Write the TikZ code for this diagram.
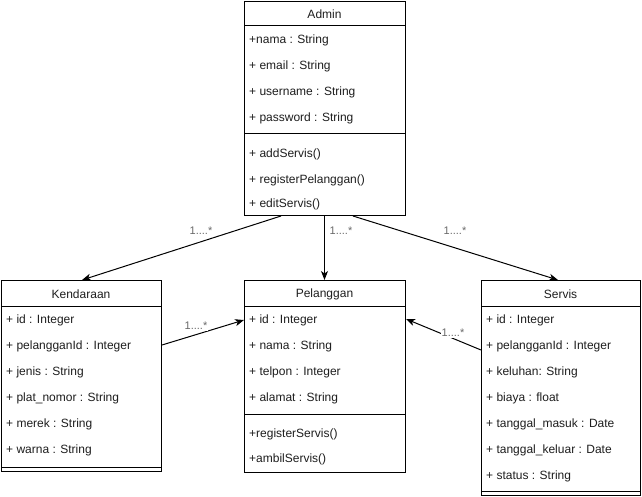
\documentclass[tikz,border=0pt]{standalone}
\usepackage{fontspec}
\setmainfont{Liberation Sans}
\usetikzlibrary{arrows.meta,calc}
\definecolor{lblgray}{RGB}{105,105,105}
\definecolor{txt}{RGB}{30,30,30}
\begin{document}
\begin{tikzpicture}[x=1pt,y=-1pt,
  classbox/.style={draw, line width=1pt, anchor=north west, inner sep=0pt, fill=white},
  sep/.style={line width=1pt},
  title/.style={inner sep=0pt, text=txt, font=\fontsize{12}{14}\selectfont},
  member/.style={anchor=west, inner sep=0pt, text=txt, font=\fontsize{12}{14}\selectfont},
  assoc/.style={line width=1pt, -{Stealth[length=9pt,width=7pt,inset=2.5pt]}},
  mult/.style={inner sep=1pt, text=lblgray, font=\fontsize{11}{13}\selectfont},
  multon/.style={mult, fill=white}]

\useasboundingbox (0,0) rectangle (642,497);

% ---------- Admin ----------
\node[classbox, minimum width=161pt, minimum height=214pt] (admin) at (244,1) {};
\draw[sep] (244,26) -- (405,26);
\draw[sep] (244,134) -- (405,134);
\node[title] (admin-t) at (324.5,14) {Admin};
\node[member] (admin-a1) at (249,40) {+nama : String};
\node[member] (admin-a2) at (249,66) {+ email : String};
\node[member] (admin-a3) at (249,92) {+ username : String};
\node[member] (admin-a4) at (249,118) {+ password : String};
\node[member] (admin-m1) at (249,154) {+ addServis()};
\node[member] (admin-m2) at (249,180) {+ registerPelanggan()};
\node[member] (admin-m3) at (249,204) {+ editServis()};

% ---------- Kendaraan ----------
\node[classbox, minimum width=160pt, minimum height=191pt] (kend) at (1,280) {};
\draw[sep] (1,306) -- (161,306);
\draw[sep] (1,467) -- (161,467);
\node[title] (kend-t) at (81,294) {Kendaraan};
\node[member] (kend-a1) at (6,320) {+ id : Integer};
\node[member] (kend-a2) at (6,346) {+ pelangganId : Integer};
\node[member] (kend-a3) at (6,372) {+ jenis : String};
\node[member] (kend-a4) at (6,398) {+ plat\_nomor : String};
\node[member] (kend-a5) at (6,424) {+ merek : String};
\node[member] (kend-a6) at (6,450) {+ warna : String};

% ---------- Pelanggan ----------
\node[classbox, minimum width=161pt, minimum height=192pt] (pel) at (244,280) {};
\draw[sep] (244,306) -- (405,306);
\draw[sep] (244,414) -- (405,414);
\node[title] (pel-t) at (324.5,294) {Pelanggan};
\node[member] (pel-a1) at (249,320) {+ id : Integer};
\node[member] (pel-a2) at (249,346) {+ nama : String};
\node[member] (pel-a3) at (249,372) {+ telpon : Integer};
\node[member] (pel-a4) at (249,398) {+ alamat : String};
\node[member] (pel-m1) at (249,434) {+registerServis()};
\node[member] (pel-m2) at (249,459) {+ambilServis()};

% ---------- Servis ----------
\node[classbox, minimum width=159pt, minimum height=215pt] (serv) at (481,280) {};
\draw[sep] (481,306) -- (640,306);
\draw[sep] (481,491) -- (640,491);
\node[title] (serv-t) at (560.5,294) {Servis};
\node[member] (serv-a1) at (486,320) {+ id : Integer};
\node[member] (serv-a2) at (486,346) {+ pelangganId : Integer};
\node[member] (serv-a3) at (486,372) {+ keluhan: String};
\node[member] (serv-a4) at (486,398) {+ biaya : float};
\node[member] (serv-a5) at (486,424) {+ tanggal\_masuk : Date};
\node[member] (serv-a6) at (486,450) {+ tanggal\_keluar : Date};
\node[member] (serv-a7) at (486,476) {+ status : String};

% ---------- associations ----------
\draw[assoc] ([xshift=37pt]admin.south west) -- ([xshift=81pt]kend.north west);
\draw[assoc] ([xshift=-0.5pt]admin.south) -- ([xshift=-0.5pt]pel.north);
\draw[assoc] ([xshift=109pt]admin.south west) -- ([xshift=77pt]serv.north west);
\draw[assoc] ([yshift=-65pt]kend.north east) -- ([yshift=-40pt]pel.north west);
\draw[assoc] ([yshift=-70pt]serv.north west) -- ([yshift=-39pt]pel.north east);

% ---------- multiplicities ----------
\node[mult] (m-kend) at (201,231) {1....*};
\node[mult] (m-pel) at (341,231) {1....*};
\node[mult] (m-serv) at (455,231) {1....*};
\node[multon] (m-kp) at (196,326) {1....*};
\node[multon] (m-sp) at (453,333) {1....*};
\end{tikzpicture}
\end{document}
